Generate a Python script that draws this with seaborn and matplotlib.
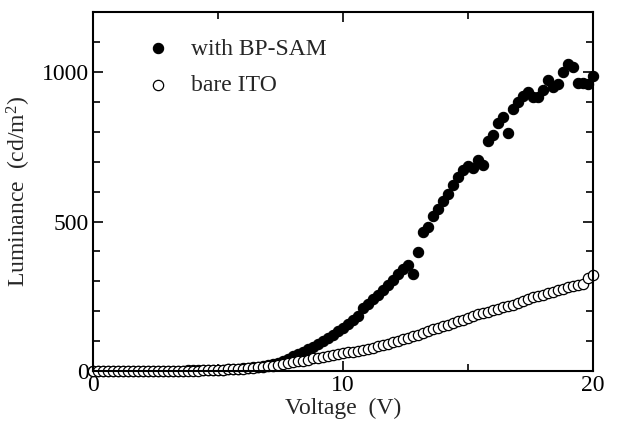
import numpy as np
import pandas as pd
import matplotlib
matplotlib.use("Agg")
import matplotlib.pyplot as plt
import seaborn as sns
from matplotlib.ticker import MultipleLocator

# Voltage steps (V)
voltage = [
    0.0, 0.2, 0.4, 0.6, 0.8, 1.0, 1.2, 1.4, 1.6, 1.8,
    2.0, 2.2, 2.4, 2.6, 2.8, 3.0, 3.2, 3.4, 3.6, 3.8,
    4.0, 4.2, 4.4, 4.6, 4.8, 5.0, 5.2, 5.4, 5.6, 5.8,
    6.0, 6.2, 6.4, 6.6, 6.8, 7.0, 7.2, 7.4, 7.6, 7.8,
    8.0, 8.2, 8.4, 8.6, 8.8, 9.0, 9.2, 9.4, 9.6, 9.8,
    10.0, 10.2, 10.4, 10.6, 10.8, 11.0, 11.2, 11.4, 11.6, 11.8,
    12.0, 12.2, 12.4, 12.6, 12.8, 13.0, 13.2, 13.4, 13.6, 13.8,
    14.0, 14.2, 14.4, 14.6, 14.8, 15.0, 15.2, 15.4, 15.6, 15.8,
    16.0, 16.2, 16.4, 16.6, 16.8, 17.0, 17.2, 17.4, 17.6, 17.8,
    18.0, 18.2, 18.4, 18.6, 18.8, 19.0, 19.2, 19.4, 19.6, 19.8,
    20.0,
]

# Luminance (cd/m2) with BP-SAM
lum_sam = [
    0, 0, 0, 0, 0, 0, 0, 0, 0, 0,
    0, 0, 0, 1, 1, 1, 1, 1, 1, 2,
    2, 2, 2, 3, 3, 4, 4, 5, 6, 7,
    9, 10, 12, 14, 17, 20, 24, 28, 34, 41,
    49, 56, 64, 72, 81, 90, 100, 110, 121, 133,
    145, 157, 170, 185, 210, 224, 240, 256, 270, 289,
    306, 325, 342, 356, 324, 397, 464, 481, 520, 542,
    570, 593, 621, 649, 673, 685, 680, 705, 688, 770,
    789, 831, 849, 798, 878, 900, 919, 934, 917, 917,
    940, 973, 951, 962, 1001, 1029, 1016, 964, 964, 960,
    987,
]

# Luminance (cd/m2) bare ITO
lum_ito = [
    0, 0, 0, 0, 0, 0, 0, 0, 0, 0,
    0, 0, 0, 1, 1, 1, 1, 1, 1, 1,
    1, 1, 2, 2, 3, 3, 4, 5, 6, 7,
    8, 9, 11, 12, 14, 16, 18, 20, 23, 26,
    29, 32, 35, 38, 42, 45, 48, 51, 54, 57,
    61, 63, 65, 67, 70, 74, 78, 82, 87, 92,
    97, 102, 107, 111, 116, 122, 128, 134, 140, 145,
    150, 155, 160, 166, 172, 179, 184, 190, 194, 199,
    203, 208, 214, 218, 222, 228, 234, 240, 246, 250,
    255, 260, 265, 270, 275, 280, 284, 287, 291, 312,
    320,
]

df_sam = pd.DataFrame({"Voltage": voltage, "Luminance": lum_sam})
df_ito = pd.DataFrame({"Voltage": voltage, "Luminance": lum_ito})

sns.set_style("ticks")
plt.rcParams["font.family"] = ["Liberation Serif", "DejaVu Serif"]
plt.rcParams["mathtext.fontset"] = "custom"
plt.rcParams["mathtext.rm"] = "Liberation Serif"
plt.rcParams["mathtext.it"] = "Liberation Serif:italic"

fig = plt.figure(figsize=(6.18, 4.28), dpi=100)
ax = fig.add_axes([0.1505, 0.1332, 0.809, 0.8376])

sns.scatterplot(data=df_sam, x="Voltage", y="Luminance", ax=ax,
                color="black", edgecolor="black", s=55, linewidth=0.8,
                label="with BP-SAM", zorder=2, clip_on=False)
sns.scatterplot(data=df_ito, x="Voltage", y="Luminance", ax=ax,
                facecolor="white", edgecolor="black", s=55, linewidth=0.9,
                label="bare ITO", zorder=3, clip_on=False)

ax.set_xlim(0, 20)
ax.set_ylim(0, 1200)
ax.xaxis.set_major_locator(MultipleLocator(10))
ax.xaxis.set_minor_locator(MultipleLocator(5))
ax.yaxis.set_major_locator(MultipleLocator(500))
ax.yaxis.set_minor_locator(MultipleLocator(100))
ax.tick_params(which="both", direction="in", top=True, right=True,
               width=1.2, labelsize=17, colors="black")
ax.tick_params(which="major", length=7.5, pad=3)
ax.tick_params(which="minor", length=5)
for sp in ax.spines.values():
    sp.set_linewidth(1.5)
    sp.set_color("black")
    sp.set_zorder(4)

ax.set_xlabel("Voltage  (V)", fontsize=17, labelpad=1)
ax.set_ylabel("Luminance  (cd/m$^{2}$)", fontsize=17, labelpad=6)

ax.legend(loc="upper left", frameon=False, fontsize=17, handletextpad=0.4,
          borderaxespad=0.0, labelspacing=0.62, bbox_to_anchor=(0.064, 0.955),
          markerscale=1.0)

fig.savefig("out.png", dpi=100)
